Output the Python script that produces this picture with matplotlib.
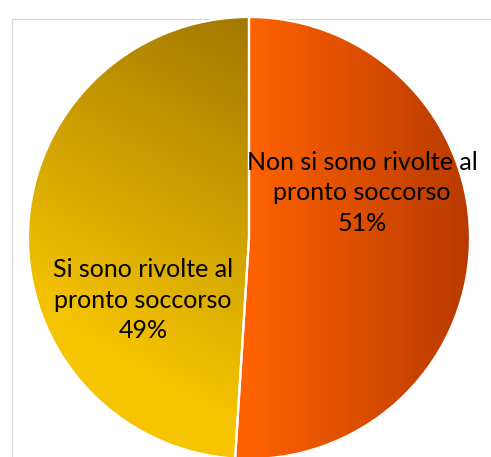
import numpy as np
import matplotlib
matplotlib.use("Agg")
import matplotlib.pyplot as plt
from matplotlib.colors import to_rgb
from matplotlib.patches import Rectangle

# Data
categories = ["Non si sono rivolte al\npronto soccorso", "Si sono rivolte al\npronto soccorso"]
values = [51, 49]

# Gradient end colours for each slice (start, end)
gradients = [("#FF6200", "#B83A00"), ("#F6C400", "#A07600")]

W, H = 491, 457
fig = plt.figure(figsize=(W / 100, H / 100), dpi=100)
ax = fig.add_axes([0, 0, 1, 1])

cx, cy, r = 249.0, H - 238.0, 221.0

wedges, _ = ax.pie(values, startangle=90, counterclock=False, center=(cx, cy), radius=r,
                   wedgeprops=dict(facecolor="none", edgecolor="white", linewidth=1.6))
for w in wedges:
    w.set_zorder(3)

ax.set_xlim(0, W)
ax.set_ylim(0, H)
ax.set_aspect("equal")
ax.axis("off")

# Build gradient images clipped to each wedge
n = 400
xs = np.linspace(cx - r, cx + r, n)
ys = np.linspace(cy - r, cy + r, n)
X, Y = np.meshgrid(xs, ys)


def ramp(t, c0, c1):
    a = np.array(to_rgb(c0))
    b = np.array(to_rgb(c1))
    t = np.clip(t, 0, 1)[..., None]
    return a * (1 - t) + b * t


# orange slice: left-to-right
t0 = (X - cx) / (r * 1.0)
img0 = ramp(t0, *gradients[0])
# yellow slice: bottom-left to top-right
d = np.array([0.5, 0.866])
proj = (X - cx) * d[0] + (Y - cy) * d[1]
t1 = (proj - (-r * 0.75)) / (r * 1.65)
img1 = ramp(t1, *gradients[1])

for w, img in zip(wedges, [img0, img1]):
    im = ax.imshow(img, extent=(cx - r, cx + r, cy - r, cy + r), origin="lower",
                   interpolation="bilinear", zorder=2)
    im.set_clip_path(w)

ax.set_xlim(0, W)
ax.set_ylim(0, H)

# Chart area border
ax.add_patch(Rectangle((12, -20), 600, H - 19 + 20, fill=False, edgecolor="#D9D9D9",
                       linewidth=1.0, zorder=1))

# Slice labels
label_pos = [(362, H - 193), (143, H - 300)]
for (lx, ly), cat, v in zip(label_pos, categories, values):
    ax.text(lx, ly, f"{cat}\n{v}%", ha="center", va="center", fontsize=18,
            family="Lato", color="black", linespacing=1.42, zorder=5)

fig.savefig("out.png", dpi=100)
